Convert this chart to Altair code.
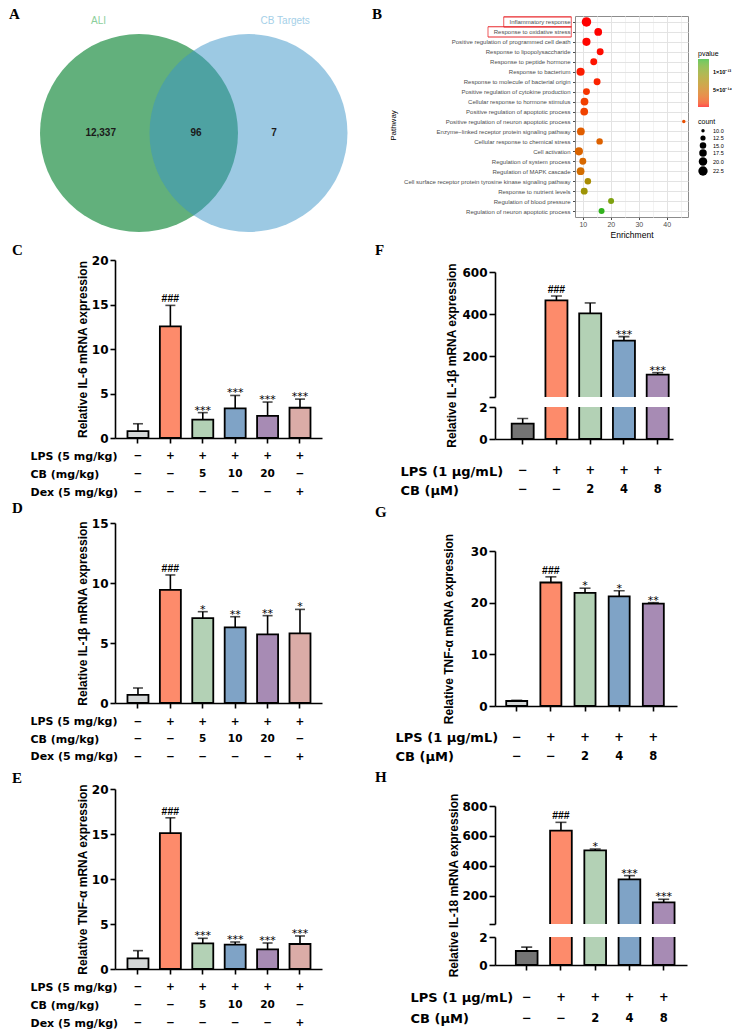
import json
import altair as alt
import pandas as pd

SANS = "Liberation Sans"
WIDE = "DejaVu Sans"
SERIF = "Liberation Serif"

# ---------------- Panel A : Venn ----------------
venn_names = ["ALI", "CB Targets"]
venn_center_x = [0.0, 1.106]
venn_center_y = [0.0, 0.0]
venn_fill = ["#62b07c", "#3a94c8"]
venn_alpha = [1.0, 0.5]
venn_name_x = [-0.409, 1.477]
venn_name_y = [1.128, 1.128]
venn_name_color = ["#8ccf9c", "#a5d0e8"]
venn_counts = ["12,337", "96", "7"]
venn_count_x = [-0.387, 0.576, 1.364]
venn_count_y = [0.0, 0.0, 0.0]

# ---------------- Panel B : enrichment bubbles ----------------
pathways = [
    "Inflammatory response",
    "Response to oxidative stress",
    "Positive regulation of programmed cell death",
    "Response to lipopolysaccharide",
    "Response to peptide hormone",
    "Response to bacterium",
    "Response to molecule of bacterial origin",
    "Positive regulation of cytokine production",
    "Cellular response to hormone stimulus",
    "Positive regulation of apoptotic process",
    "Positive regulation of neuron apoptotic process",
    "Enzyme\u2212linked receptor protein signaling pathway",
    "Cellular response to chemical stress",
    "Cell activation",
    "Regulation of system process",
    "Regulation of MAPK cascade",
    "Cell surface receptor protein tyrosine kinase signaling pathway",
    "Response to nutrient levels",
    "Regulation of blood pressure",
    "Regulation of neuron apoptotic process",
]
enrichment = [11.3, 15.5, 11.3, 16.2, 13.9, 9.2, 15.1, 11.3, 10.6, 10.5,
              46.1, 9.3, 16.0, 8.6, 10.0, 9.2, 11.8, 10.5, 20.1, 16.7]
pvalues = [2.1e-18, 5.6e-17, 4.7e-16, 8.9e-16, 1.9e-15, 3.2e-15, 4.5e-15,
           9.8e-15, 1.4e-14, 1.5e-14, 2.2e-14, 3.1e-14, 3.4e-14, 3.6e-14,
           3.9e-14, 4.3e-14, 7.8e-14, 8.6e-14, 1.06e-13, 1.35e-13]
gene_counts = [23, 18, 19, 16, 16, 19, 16, 16, 18, 18,
               10, 18, 15, 19, 16, 18, 15, 16, 14, 14]
boxed_pathways = ["Inflammatory response", "Response to oxidative stress"]
count_breaks = [10.0, 12.5, 15.0, 17.5, 20.0, 22.5]
pvalue_breaks = [5e-14, 1e-13]

# ---------------- Panels C-E (in vivo) ----------------
DASH = "\u2212"
vivo_groups = ["Control", "LPS", "CB 5", "CB 10", "CB 20", "Dex"]
vivo_colors = ["#d4d7d7", "#fd8b6b", "#b3d1b5", "#7fa3c6", "#a78bb4", "#dbaca7"]
vivo_row_names = ["LPS (5 mg/kg)", "CB (mg/kg)", "Dex (5 mg/kg)"]
vivo_rows = [[DASH, "+", "+", "+", "+", "+"],
             [DASH, DASH, "5", "10", "20", DASH],
             [DASH, DASH, DASH, DASH, DASH, "+"]]

il6_vivo_mean = [0.78, 12.55, 2.07, 3.33, 2.48, 3.4]
il6_vivo_upper = [1.6, 14.9, 2.85, 4.78, 4.04, 4.37]
il6_vivo_sig = ["", "###", "***", "***", "***", "***"]

il1b_vivo_mean = [0.67, 9.42, 7.08, 6.31, 5.72, 5.8]
il1b_vivo_upper = [1.25, 10.67, 7.61, 7.19, 7.28, 7.8]
il1b_vivo_sig = ["", "###", "*", "**", "**", "*"]

tnf_vivo_mean = [1.19, 15.1, 2.85, 2.7, 2.19, 2.78]
tnf_vivo_upper = [2.04, 16.8, 3.41, 3.0, 2.89, 3.67]
tnf_vivo_sig = ["", "###", "***", "***", "***", "***"]

# ---------------- Panels F-H (in vitro) ----------------
vitro_groups = ["Control", "LPS", "CB 2", "CB 4", "CB 8"]
vitro_colors_dark = ["#747474", "#fd8b6b", "#b3d1b5", "#7fa3c6", "#a78bb4"]
vitro_colors_light = ["#d4d7d7", "#fd8b6b", "#b3d1b5", "#7fa3c6", "#a78bb4"]
vitro_row_names = ["LPS (1 \u03bcg/mL)", "CB (\u03bcM)"]
vitro_rows = [[DASH, "+", "+", "+", "+"],
              [DASH, DASH, "2", "4", "8"]]

il1b_vitro_mean = [0.96, 465.6, 403.0, 274.0, 112.0]
il1b_vitro_upper = [1.28, 486.0, 453.0, 293.0, 121.6]
il1b_vitro_sig = ["", "###", "", "***", "***"]

tnf_vitro_mean = [0.97, 23.9, 21.9, 21.2, 19.8]
tnf_vitro_upper = [1.1, 25.0, 22.8, 22.3, 20.0]
tnf_vitro_sig = ["", "###", "*", "*", "**"]

il18_vitro_mean = [1.0, 635.6, 504.4, 311.0, 157.8]
il18_vitro_upper = [1.28, 691.0, 513.0, 335.6, 177.8]
il18_vitro_sig = ["", "###", "*", "***", "***"]

panel_letters = ["A", "B", "C", "D", "E", "F", "G", "H"]


# ======================================================================
def blank(w, h):
    return alt.Chart(pd.DataFrame({"t": [""]})).mark_text().encode(
        x=alt.value(0.5), y=alt.value(0.5), text="t:N").properties(width=w, height=h)


def letter(t, px, py):
    return alt.Chart(pd.DataFrame({"t": [t]})).mark_text(
        font=SERIF, fontWeight="bold", fontSize=15, align="left",
        baseline="top", color="black").encode(
        x=alt.value(px), y=alt.value(py), text="t:N")


def band(keys, bs):
    pi, po, al = bs
    return alt.Scale(type="band", domain=keys, paddingInner=pi, paddingOuter=po, align=al)


def bar_panel(keys, means, uppers, sigs, colors, w, h, dom, ticks, bs,
              ytitle=None, tx=0, ty=0, tick_size=5, label_pad=1,
              x_axis=True, cut=None, clip=False, cap=10, extra=()):
    df = pd.DataFrame({"g": keys, "m": means, "u": uppers, "s": sigs, "c": colors})
    if cut is not None:
        df = df[df["m"] > cut]
    if x_axis:
        xaxis = alt.Axis(labels=False, title=None, domainColor="black",
                         domainWidth=1.6, tickColor="black", tickWidth=1.6,
                         tickSize=5, grid=False)
    else:
        xaxis = None
    lab = "datum.label"
    if cut is not None:
        lab = "datum.value < %g ? '' : datum.label" % (cut + 1)
    yaxis = alt.Axis(values=ticks, format="d", labelExpr=lab, domainColor="black",
                     domainWidth=1.6, tickColor="black", tickWidth=1.6,
                     tickSize=tick_size, labelFont=WIDE, labelFontWeight="bold",
                     labelFontSize=12, labelColor="black", labelPadding=label_pad,
                     labelOverlap=False, grid=False, title=ytitle,
                     titleFont=SANS, titleFontSize=12, titleFontWeight="bold",
                     titleColor="black", titleAngle=270, titleBaseline="bottom",
                     titleAlign="center", titleX=tx, titleY=ty)
    ys = alt.Scale(domain=dom, nice=False, zero=False)
    x = alt.X("g:N", scale=band(keys, bs), axis=xaxis, title=None)
    base = alt.Chart(df)
    bars = base.mark_bar(stroke="black", strokeWidth=1.8, clip=True).encode(
        x=x, y=alt.Y("m:Q", scale=ys, axis=yaxis), y2=alt.datum(0),
        color=alt.Color("c:N", scale=None))
    rule = base.mark_rule(color="black", strokeWidth=1.6, clip=True).encode(
        x=x, y=alt.Y("m:Q", scale=ys, axis=yaxis), y2="u:Q")
    tick = base.mark_tick(color="black", thickness=1.6, size=cap, clip=True,
                          orient="horizontal").encode(
        x=x, y=alt.Y("u:Q", scale=ys, axis=yaxis))
    layers = [bars, rule, tick]
    hdf = df[df["s"].str.contains("#")]
    sdf = df[df["s"].str.contains(r"\*")]
    if len(hdf):
        layers.append(alt.Chart(hdf).mark_text(
            font=SANS, fontWeight="bold", fontSize=10.5, baseline="bottom",
            dy=-1, color="black", clip=clip).encode(
            x=x, y=alt.Y("u:Q", scale=ys, axis=yaxis), text="s:N"))
    if len(sdf):
        layers.append(alt.Chart(sdf).mark_text(
            font=WIDE, fontSize=11, baseline="bottom", dy=3,
            color="black", clip=clip).encode(
            x=x, y=alt.Y("u:Q", scale=ys, axis=yaxis), text="s:N"))
    layers.extend(extra)
    return alt.layer(*layers).properties(width=w, height=h)


def rows_panel(keys, names, values, w, h, start, step, bs, label_pad,
               label_size, sym_size):
    recs = []
    for r, vals in enumerate(values):
        for k, v in zip(keys, vals):
            recs.append({"g": k, "r": r, "t": v})
    df = pd.DataFrame(recs)
    d0 = -start / step
    d1 = d0 + h / step
    expr = "%s[datum.value]" % json.dumps(names, ensure_ascii=False)
    return alt.Chart(df).mark_text(
        font=WIDE, fontWeight="bold", fontSize=sym_size, color="black",
        baseline="middle").encode(
        x=alt.X("g:N", scale=band(keys, bs), axis=None),
        y=alt.Y("r:Q", scale=alt.Scale(domain=[d0, d1], reverse=True,
                                       nice=False, zero=False),
                axis=alt.Axis(values=list(range(len(names))), labelExpr=expr,
                              domain=False, ticks=False, tickSize=0, grid=False,
                              labelAlign="left", labelPadding=label_pad,
                              labelFont=WIDE, labelFontWeight="bold",
                              labelFontSize=label_size, labelColor="black",
                              labelLimit=400, labelOverlap=False, title=None)),
        text="t:N").properties(width=w, height=h)


# ---------------- Venn chart (plot area 8..346 x 15..240) ----------------
xs_v = alt.Scale(domain=[-1.313, 2.101], nice=False, zero=False)
ys_v = alt.Scale(domain=[-1.091, 1.182], nice=False, zero=False)
vx = alt.X("x:Q", scale=xs_v, axis=None)
vy = alt.Y("y:Q", scale=ys_v, axis=None)
circles = alt.Chart(pd.DataFrame({"x": venn_center_x, "y": venn_center_y,
                                  "c": venn_fill, "a": venn_alpha})).mark_circle(
    size=39204).encode(x=vx, y=vy, color=alt.Color("c:N", scale=None),
                       opacity=alt.Opacity("a:Q", scale=None))
vnames = alt.Chart(pd.DataFrame({"x": venn_name_x, "y": venn_name_y,
                                 "t": venn_names, "c": venn_name_color})).mark_text(
    font=SANS, fontSize=10).encode(x=vx, y=vy, text="t:N",
                                   color=alt.Color("c:N", scale=None))
vcounts = alt.Chart(pd.DataFrame({"x": venn_count_x, "y": venn_count_y,
                                  "t": venn_counts})).mark_text(
    font=SANS, fontSize=10, fontWeight="bold", color="#1a1a1a").encode(
    x=vx, y=vy, text="t:N")
venn = alt.layer(circles, vnames, vcounts,
                 letter(panel_letters[0], 0, -9)).properties(width=338, height=225)

# ---------------- Bubble chart (plot area 573..686 x 15..216) ----------------
bdf = pd.DataFrame({"pathway": pathways, "enrichment": enrichment,
                    "pvalue": pvalues, "count": gene_counts})
minor_test = "datum.value % 10 !== 0"
xb = alt.X("enrichment:Q",
           scale=alt.Scale(domain=[7.2, 47.6], nice=False, zero=False),
           axis=alt.Axis(values=[10, 15, 20, 25, 30, 35, 40, 45],
                         labelExpr="datum.value % 10 === 0 ? datum.label : ''",
                         gridColor={"condition": {"test": minor_test, "value": "#f3f3f3"},
                                    "value": "#e3e3e3"},
                         tickOpacity={"condition": {"test": minor_test, "value": 0},
                                      "value": 1},
                         domain=False, tickSize=2.5, tickColor="#4d4d4d",
                         labelFont=SANS, labelFontSize=7, labelColor="#4d4d4d",
                         labelPadding=1, labelFlush=False, title="Enrichment",
                         titleFont=SANS, titleFontSize=8.5, titleFontWeight="normal",
                         titleColor="black", titlePadding=3))
yb = alt.Y("pathway:N", scale=alt.Scale(type="point", padding=0.6, domain=pathways),
           axis=alt.Axis(domain=False, tickSize=2.5, tickColor="#4d4d4d",
                         labelFont=SANS, labelFontSize=6, labelColor="#4d4d4d",
                         labelPadding=2.5, labelLimit=300, grid=True,
                         gridColor="#e3e3e3", title="Pathway", titleFont=SANS,
                         titleFontSize=8, titleFontWeight="normal",
                         titleColor="black", titleAngle=270,
                         titleBaseline="bottom", titleX=-178, titleY=109))
points = alt.Chart(bdf).mark_circle(opacity=1).encode(
    x=xb, y=yb,
    color=alt.Color("pvalue:Q",
                    scale=alt.Scale(domain=[0, 1.38e-13],
                                    range=["#ff0000", "#1eb41e"], interpolate="lab"),
                    legend=alt.Legend(orient="none", legendX=689, legendY=34,
                                      direction="vertical", gradientLength=48,
                                      gradientThickness=11, gradientStrokeWidth=0,
                                      values=pvalue_breaks,
                                      labelExpr="datum.value > 7e-14 ? '1\u00d710\u207b\u00b9\u00b3' : '5\u00d710\u207b\u00b9\u2074'",
                                      labelFont=SANS, labelFontSize=5.5,
                                      labelFontWeight="bold", labelColor="black",
                                      labelOffset=4, title="pvalue", titleFont=SANS,
                                      titleFontSize=7, titleFontWeight="normal",
                                      titleColor="black", titlePadding=2)),
    size=alt.Size("count:Q", scale=alt.Scale(domain=[10, 23], range=[12, 90]),
                  legend=alt.Legend(orient="none", legendX=689, legendY=102,
                                    values=count_breaks, format=".1f",
                                    symbolType="circle", symbolFillColor="black",
                                    symbolStrokeWidth=0, symbolOpacity=1,
                                    rowPadding=0, labelFont=SANS, labelFontSize=5.5,
                                    labelColor="black", labelOffset=5, title="count",
                                    titleFont=SANS, titleFontSize=7,
                                    titleFontWeight="normal", titleColor="black",
                                    titlePadding=3)))
box_layers = []
for name, left in zip(boxed_pathways, [-71.3, -87.0]):
    one = alt.Chart(pd.DataFrame({"pathway": [name]}))
    for off in (-5.1, 5.1):
        box_layers.append(one.mark_rule(color="#e8282c", strokeWidth=1.1, yOffset=off).encode(
            x=alt.value(left), x2=alt.value(-3.7), y=yb))
    for xv in (left, -3.7):
        box_layers.append(one.mark_tick(color="#e8282c", thickness=1.1, size=10.2,
                                        orient="vertical").encode(x=alt.value(xv), y=yb))
bubble = alt.layer(points, *box_layers, letter(panel_letters[1], -203, -9)).properties(
    width=113, height=201,
    view=alt.ViewBackground(stroke="#8c8c8c", strokeWidth=1, fill="white"))

row1 = alt.hconcat(venn, bubble, spacing=23, bounds="full")

# ---------------- Left column panels (plot x 112..319) ----------------
LW = 207
LB = (0.352, 0.37, 0.52)
C_bar = bar_panel(vivo_groups, il6_vivo_mean, il6_vivo_upper, il6_vivo_sig, vivo_colors,
                  LW, 178, [0, 20], [0, 5, 10, 15, 20], LB,
                  "Relative IL-6 mRNA expression", -26, 89, label_pad=2,
                  extra=[letter(panel_letters[2], -103, -17)])
C_rows = rows_panel(vivo_groups, vivo_row_names, vivo_rows, LW, 85, 18, 18, LB, 85, 11, 10.5)
D_bar = bar_panel(vivo_groups, il1b_vivo_mean, il1b_vivo_upper, il1b_vivo_sig, vivo_colors,
                  LW, 180, [0, 15], [0, 5, 10, 15], LB,
                  "Relative IL-1\u03b2 mRNA expression", -26, 90, label_pad=2,
                  extra=[letter(panel_letters[3], -103, -22)])
D_rows = rows_panel(vivo_groups, vivo_row_names, vivo_rows, LW, 86, 18.5, 17.7, LB, 85, 11, 10.5)
E_bar = bar_panel(vivo_groups, tnf_vivo_mean, tnf_vivo_upper, tnf_vivo_sig, vivo_colors,
                  LW, 180, [0, 20], [0, 5, 10, 15, 20], LB,
                  "Relative TNF-\u03b1 mRNA expression", -26, 90, label_pad=2,
                  extra=[letter(panel_letters[4], -103, -18)])
E_rows = rows_panel(vivo_groups, vivo_row_names, vivo_rows, LW, 61, 18, 18, LB, 85, 11, 10.5)
left_col = alt.vconcat(blank(LW, 12), C_bar, C_rows, D_bar, D_rows, E_bar, E_rows,
                       spacing=0, bounds="flush")

# ---------------- Right column panels (plot x from 490) ----------------
FB = (0.348, 0.311, 0.795)
GB = (0.385, 0.357, 0.46)
HB = (0.366, 0.486, 0.626)
F_up = bar_panel(vitro_groups, il1b_vitro_mean, il1b_vitro_upper, il1b_vitro_sig,
                 vitro_colors_dark, 178, 125, [6, 600], [6, 200, 400, 600], FB,
                 "Relative IL-1\u03b2 mRNA expression", -37, 83, tick_size=6, label_pad=2,
                 x_axis=False, cut=6, clip=True, cap=11,
                 extra=[letter(panel_letters[5], -120, -29)])
F_low = bar_panel(vitro_groups, il1b_vitro_mean, il1b_vitro_upper, ["", "", "", "", ""],
                  vitro_colors_dark, 178, 32, [0, 2], [0, 1, 2], FB,
                  None, tick_size=6, label_pad=2, clip=True, cap=11)
F_rows = rows_panel(vitro_groups, vitro_row_names, vitro_rows, 178, 112, 32, 19,
                    FB, 95, 13, 11.5)
G_bar = bar_panel(vitro_groups, tnf_vitro_mean, tnf_vitro_upper, tnf_vitro_sig,
                  vitro_colors_light, 182, 155, [0, 30], [0, 10, 20, 30], GB,
                  "Relative TNF-\u03b1 mRNA expression", -40, 77.5, tick_size=6,
                  label_pad=2, cap=11, extra=[letter(panel_letters[6], -120, -46)])
G_rows = rows_panel(vitro_groups, vitro_row_names, vitro_rows, 182, 100, 31.5, 19.3,
                    GB, 100, 13, 11.5)
H_up = bar_panel(vitro_groups, il18_vitro_mean, il18_vitro_upper, il18_vitro_sig,
                 vitro_colors_dark, 192, 118, [13, 800], [13, 200, 400, 600, 800], HB,
                 "Relative IL-18 mRNA expression", -35, 79, tick_size=6,
                 label_pad=2, x_axis=False, cut=13, clip=True, cap=11,
                 extra=[letter(panel_letters[7], -120, -36)])
H_low = bar_panel(vitro_groups, il18_vitro_mean, il18_vitro_upper, ["", "", "", "", ""],
                  vitro_colors_dark, 192, 28, [0, 2], [0, 1, 2], HB,
                  None, tick_size=6, label_pad=2, clip=True, cap=11)
H_rows = rows_panel(vitro_groups, vitro_row_names, vitro_rows, 192, 65, 32.5, 21,
                    HB, 85, 13, 11.5)
right_col = alt.vconcat(blank(178, 24), F_up, blank(178, 10), F_low, F_rows,
                        G_bar, G_rows, H_up, blank(192, 13), H_low, H_rows,
                        spacing=0, bounds="flush")

row2 = alt.hconcat(blank(1, 1), left_col, blank(49, 1), right_col,
                   spacing=0, bounds="full")

chart = alt.vconcat(row1, row2, spacing=0, bounds="full").properties(
    padding={"left": 8, "top": 6, "right": 0, "bottom": 0},
    background="white").configure_view(stroke="transparent")

chart.save("out.html", embed_options={"renderer": "svg", "actions": False})
